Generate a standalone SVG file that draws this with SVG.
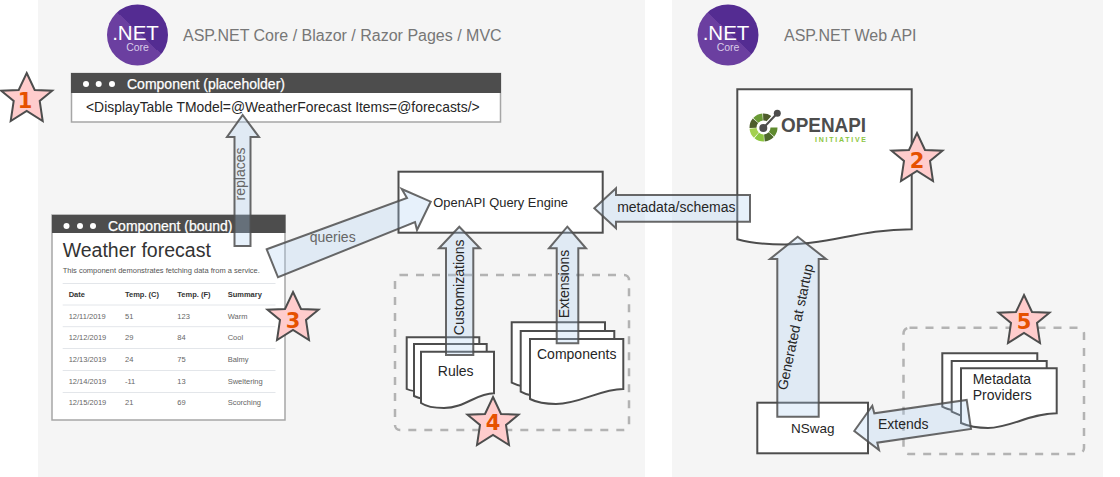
<svg xmlns="http://www.w3.org/2000/svg" width="1120" height="477" viewBox="0 0 1120 477">
<style>
text{font-family:"Liberation Sans",Arial,sans-serif;fill:#262626}
.box{fill:#fff;stroke:#4d4d4d;stroke-width:2}
.thin{fill:#fff;stroke:#a6a6a6;stroke-width:1.5}
.bar{fill:#4d4d4d}
.dot{fill:#fff}
.hd{fill:#fff;font-size:14px;stroke:#fff;stroke-width:.25}
.arrow{fill:#a8ccf0;fill-opacity:.28;stroke:#4d4d4d;stroke-opacity:.85;stroke-width:2}
.dash{fill:none;stroke:#b3b3b3;stroke-width:2.5;stroke-dasharray:8 8}
.star{fill:#ffcccc;stroke:#4d4d4d;stroke-width:2}
.num{font-family:"DejaVu Sans",sans-serif;font-weight:bold;font-size:21px;fill:#e65100;text-anchor:middle}
.t{font-size:14px}
.c{text-anchor:middle}
.g{fill:#666}
.title{font-size:16px;fill:#777}
.cell{font-size:7.5px;fill:#666}
.th{font-size:7.5px;font-weight:bold;fill:#333}
.rule{stroke:#e3e6ea;stroke-width:1}
.seg{fill:none;stroke-width:7}
</style>
<defs>
<path id="starShape" class="star" d="M0 0L8 17L25.500 17.700L13 28L16 48L0 38L-16 48L-13 28L-25.500 17.700L-8 17Z"/>
<linearGradient id="net" x1="0.85" y1="0.13" x2="0.15" y2="0.87"><stop offset="0" stop-color="#542c92"/><stop offset=".46" stop-color="#542c92"/><stop offset=".46" stop-color="#6b3fa0"/><stop offset="1" stop-color="#6b3fa0"/></linearGradient>
<g id="netLogo"><circle r="30.500" fill="url(#net)"/><text x="-2" y="5" text-anchor="middle" style="font-size:20.500px;fill:#fff">.NET</text><text x="0" y="15.500" text-anchor="middle" style="font-size:10.500px;fill:#d9cbe8">Core</text></g>
</defs>

<rect id="panel-left" x="38" y="0" width="607" height="477" fill="#f5f5f5"/>
<rect id="panel-right" x="672" y="0" width="431" height="477" fill="#f5f5f5"/>

<g id="logo-left"><use href="#netLogo" x="137.500" y="35"/></g>
<text id="title-left" class="title" x="183" y="41">ASP.NET Core / Blazor / Razor Pages / MVC</text>
<g id="logo-right"><use href="#netLogo" x="728" y="35"/></g>
<text id="title-right" class="title" x="784" y="41">ASP.NET Web API</text>

<g id="placeholder">
<rect class="thin" x="71.500" y="73.500" width="429" height="48.500"/>
<rect class="bar" x="71" y="73" width="430" height="20"/>
<circle class="dot" cx="86" cy="84" r="3"/><circle class="dot" cx="98.700" cy="84" r="3"/><circle class="dot" cx="112" cy="84" r="3"/>
<text class="hd" x="127" y="88.500">Component (placeholder)</text>
<text x="86" y="112" style="font-size:13.900px">&lt;DisplayTable TModel=@WeatherForecast Items=@forecasts/&gt;</text>
</g>

<g id="bound">
<rect class="thin" x="52" y="215" width="233" height="205"/>
<rect class="bar" x="52" y="215" width="233.500" height="18"/>
<circle class="dot" cx="66.500" cy="226" r="3"/><circle class="dot" cx="80" cy="226" r="3"/><circle class="dot" cx="93" cy="226" r="3"/>
<text class="hd" x="108" y="231">Component (bound)</text>
<text x="62.700" y="257" style="font-size:19.500px;fill:#333">Weather forecast</text>
<text x="62.700" y="273" style="font-size:7.500px;fill:#555">This component demonstrates fetching data from a service.</text>
<line class="rule" x1="62.700" y1="283.500" x2="275.500" y2="283.500"/>
<line class="rule" x1="62.700" y1="305" x2="275.500" y2="305"/>
<line class="rule" x1="62.700" y1="326.700" x2="275.500" y2="326.700"/>
<line class="rule" x1="62.700" y1="348.500" x2="275.500" y2="348.500"/>
<line class="rule" x1="62.700" y1="370.500" x2="275.500" y2="370.500"/>
<line class="rule" x1="62.700" y1="392.500" x2="275.500" y2="392.500"/>
<text class="th" x="68.700" y="296.500">Date</text><text class="th" x="125" y="296.500">Temp. (C)</text><text class="th" x="177.300" y="296.500">Temp. (F)</text><text class="th" x="227.700" y="296.500">Summary</text>
<text class="cell" x="68.700" y="318.500">12/11/2019</text><text class="cell" x="125" y="318.500">51</text><text class="cell" x="177.300" y="318.500">123</text><text class="cell" x="227.700" y="318.500">Warm</text>
<text class="cell" x="68.700" y="340">12/12/2019</text><text class="cell" x="125" y="340">29</text><text class="cell" x="177.300" y="340">84</text><text class="cell" x="227.700" y="340">Cool</text>
<text class="cell" x="68.700" y="362">12/13/2019</text><text class="cell" x="125" y="362">24</text><text class="cell" x="177.300" y="362">75</text><text class="cell" x="227.700" y="362">Balmy</text>
<text class="cell" x="68.700" y="383.500">12/14/2019</text><text class="cell" x="125" y="383.500">-11</text><text class="cell" x="177.300" y="383.500">13</text><text class="cell" x="227.700" y="383.500">Sweltering</text>
<text class="cell" x="68.700" y="405">12/15/2019</text><text class="cell" x="125" y="405">21</text><text class="cell" x="177.300" y="405">69</text><text class="cell" x="227.700" y="405">Scorching</text>
</g>

<g id="engine">
<rect class="box" x="398.500" y="171.700" width="204.200" height="61"/>
<text x="433.300" y="207" style="font-size:12.900px">OpenAPI Query Engine</text>
</g>

<rect id="group-4" class="dash" x="395" y="275" width="234" height="155" rx="5"/>
<rect id="group-5" class="dash" x="903.500" y="327.700" width="180.500" height="126.300" rx="6"/>

<g id="rules">
<path class="box" d="M406.700 337.300H479.300V378C462 378 450 392 430 392C420 392 412 392 406.700 389Z"/>
<path class="box" d="M414 344H486.700V385C470 385 458 400 438 400C428 400 420 399 414 396Z"/>
<path class="box" d="M421 351.700H494V393.300C476 393.300 465 408 444 408C434 408 427 407 421 403Z"/>
<text class="t c" x="455.700" y="376">Rules</text>
</g>

<g id="components">
<path class="box" d="M511.700 322.300H605V372C585 372 560 388 540 388C528 388 520 387 511.700 382.700Z"/>
<path class="box" d="M520.700 331H614.300V381C594 381 570 397 548 397C537 397 528 396 520.700 391.700Z"/>
<path class="box" d="M530 339H623.300V389C600 389 580 404 556 404C546 404 538 403 530 399Z"/>
<text class="t c" x="576.700" y="358.700">Components</text>
</g>

<g id="openapi">
<path class="box" d="M737.300 89.300H911.700V229.300C860 229.300 830 244.500 785 244.500C770 244.500 750 243 737.300 239.300Z"/>
<circle class="seg" cx="763.500" cy="127.500" r="10.500" pathLength="360" stroke="#5f8a2e" stroke-dasharray="40 320"/>
<circle class="seg" cx="763.500" cy="127.500" r="10.500" pathLength="360" stroke="#4e6a2a" stroke-dasharray="42 318" stroke-dashoffset="-43"/>
<circle class="seg" cx="763.500" cy="127.500" r="10.500" pathLength="360" stroke="#8cc63f" stroke-dasharray="42 318" stroke-dashoffset="-88"/>
<circle class="seg" cx="763.500" cy="127.500" r="10.500" pathLength="360" stroke="#a3d04f" stroke-dasharray="42 318" stroke-dashoffset="-133"/>
<circle class="seg" cx="763.500" cy="127.500" r="10.500" pathLength="360" stroke="#4e5d2c" stroke-dasharray="42 318" stroke-dashoffset="-178"/>
<circle class="seg" cx="763.500" cy="127.500" r="10.500" pathLength="360" stroke="#6a9a36" stroke-dasharray="42 318" stroke-dashoffset="-223"/>
<circle class="seg" cx="763.500" cy="127.500" r="10.500" pathLength="360" stroke="#4e5d2c" stroke-dasharray="36 324" stroke-dashoffset="-268"/>
<line x1="763.300" y1="128" x2="777.300" y2="113.300" stroke="#fff" stroke-width="4.500"/>
<line x1="763.300" y1="128" x2="777.300" y2="113.300" stroke="#4d4d4d" stroke-width="2"/>
<circle cx="763.300" cy="128" r="4" fill="#4d4d4d"/><circle cx="777.300" cy="113.300" r="3.500" fill="#4d4d4d"/>
<text x="781" y="132" textLength="85" lengthAdjust="spacingAndGlyphs" style="font-size:21px;font-weight:bold;fill:#4d4d4d">OPENAPI</text>
<text x="815" y="142" textLength="51" style="font-size:7px;font-weight:bold;fill:#8cc63f">INITIATIVE</text>
</g>

<g id="nswag">
<rect class="box" x="757.300" y="402.700" width="110.700" height="50.600"/>
<text class="c" x="812.700" y="433" style="font-size:13.500px">NSwag</text>
</g>

<g id="providers">
<path class="box" d="M942.300 353.300H1037.300V395C1015 395 995 405 975 412C965 412 950 411 942.300 406.700Z"/>
<path class="box" d="M951.700 361H1046.700V403C1025 403 1005 416 985 420C975 420 960 416 951.700 411.700Z"/>
<path class="box" d="M961 368.300H1056.700V413.300C1030 413.300 1010 428 988 428C978 428 970 427 961 423Z"/>
<text class="t" x="972.700" y="384">Metadata</text>
<text class="t" x="972.700" y="400">Providers</text>
</g>

<g id="connectors">
<path class="arrow" d="M242.700 115L259 137H250.500V246H234.500V137H227Z"/>
<text class="t c g" transform="translate(245 174) rotate(-90)">replaces</text>
<path class="arrow" d="M266.700 249.300L407 198L401.700 189L430.700 201.700L417 230L415 222L278 277.300Z"/>
<text class="t c g" x="332.700" y="242">queries</text>
<path class="arrow" d="M459.300 226.700L480 248.300H473.300V355H446V248.300H439Z"/>
<text class="t c" transform="translate(464 287.300) rotate(-90)">Customizations</text>
<path class="arrow" d="M567.300 226.700L586 248.300H578.300V343.300H556.700V248.300H549Z"/>
<text class="t c" transform="translate(569 284) rotate(-90)">Extensions</text>
<path class="arrow" d="M594.300 208.300L616 188.300V195H750V221.700H616V228.300Z"/>
<text class="t c" x="676.300" y="211.700">metadata/schemas</text>
<path class="arrow" d="M797.700 236.700L826 259H818.700V416.700H777.300V259H770Z"/>
<text class="t c" transform="translate(800 328) rotate(-78)">Generated at startup</text>
<path class="arrow" d="M966.700 400L971 429L877.300 442.700L879 450L854.300 431L872.300 405.700L874.300 413.300Z"/>
<text class="t c" x="903.300" y="429">Extends</text>
</g>

<g id="star-1"><use href="#starShape" x="26.700" y="73"/><text class="num" x="25" y="108">1</text></g>
<g id="star-2"><use href="#starShape" x="917" y="133"/><text class="num" x="917" y="168">2</text></g>
<g id="star-3"><use href="#starShape" x="293" y="292"/><text class="num" x="293" y="327.500">3</text></g>
<g id="star-4"><use href="#starShape" x="493" y="397"/><text class="num" x="493" y="430">4</text></g>
<g id="star-5"><use href="#starShape" x="1024" y="295"/><text class="num" x="1024" y="329">5</text></g>
</svg>
